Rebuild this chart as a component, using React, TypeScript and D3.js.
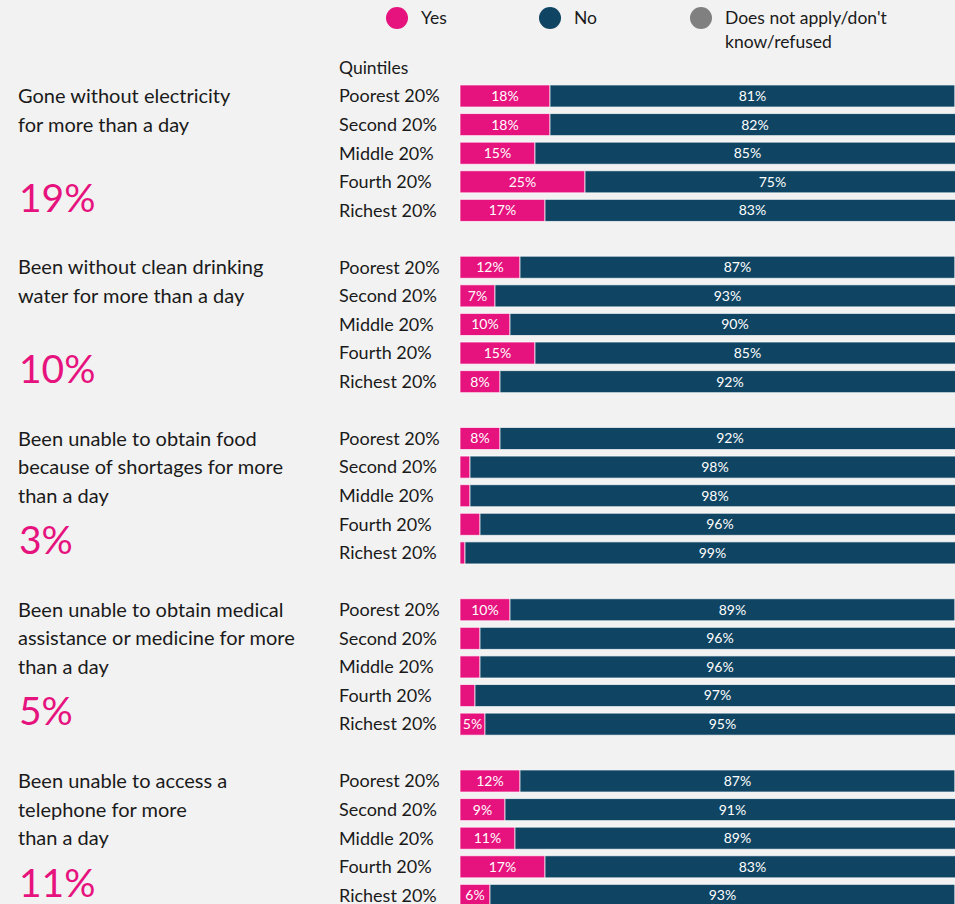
import React from "react";
import * as d3 from "d3";

const quintiles = ["Poorest 20%", "Second 20%", "Middle 20%", "Fourth 20%", "Richest 20%"];
const titles = [
  ["Gone without electricity", "for more than a day"],
  ["Been without clean drinking", "water for more than a day"],
  ["Been unable to obtain food", "because of shortages for more", "than a day"],
  ["Been unable to obtain medical", "assistance or medicine for more", "than a day"],
  ["Been unable to access a", "telephone for more", "than a day"],
];
const totals = ["19%", "10%", "3%", "5%", "11%"];
const yesValues = [
  [18, 18, 15, 25, 17],
  [12, 7, 10, 15, 8],
  [8, 2, 2, 4, 1],
  [10, 4, 4, 3, 5],
  [12, 9, 11, 17, 6],
];
const noValues = [
  [81, 82, 85, 75, 83],
  [87, 93, 90, 85, 92],
  [92, 98, 98, 96, 99],
  [89, 96, 96, 97, 95],
  [87, 91, 89, 83, 93],
];
const legendItems = [
  { key: "yes", label: ["Yes"] },
  { key: "no", label: ["No"] },
  { key: "dk", label: ["Does not apply/don't", "know/refused"] },
];

const COLORS: Record<string, string> = { yes: "#E6127E", no: "#0F4563", dk: "#808080" };
const FONT = "Lato, 'Source Sans Pro', sans-serif";

export default function App() {
  const W = 955, H = 904;
  const x = d3.scaleLinear().domain([0, 100]).range([460, 960]);
  const panelY = d3.scaleLinear().domain([0, 4]).range([96, 781]);
  const step = 28.6;
  const band = d3.scaleBand<string>().domain(quintiles).range([-step / 2, step * 4.5]).paddingInner(0.228).paddingOuter(0.114);

  return (
    <svg width={W} height={H} style={{ position: "absolute", left: 0, top: 0, background: "#F2F2F2", fontFamily: FONT }}>
      <rect width={W} height={H} fill="#F2F2F2" />
      {legendItems.map((d, i) => {
        const cx = [397, 550, 701][i];
        return (
          <g key={d.key}>
            <circle cx={cx} cy={18} r={11} fill={COLORS[d.key]} />
            {d.label.map((t, j) => (
              <text key={j} x={cx + 24} y={18 + j * 24} dy="0.35em" fontSize={17.5} fill="#1a1a1a">{t}</text>
            ))}
          </g>
        );
      })}
      <text x={339} y={68} dy="0.35em" fontSize={17.5} fill="#1a1a1a">Quintiles</text>
      {titles.map((lines, p) => {
        const py = panelY(p);
        return (
          <g key={p} transform={`translate(0,${py})`}>
            {lines.map((t, j) => (
              <text key={j} x={18} y={j * step} dy="0.35em" fontSize={20} fill="#1a1a1a">{t}</text>
            ))}
            <text x={19} y={102} dy="0.35em" fontSize={39} fill={COLORS.yes}>{totals[p]}</text>
            {quintiles.map((q, r) => {
              const yv = yesValues[p][r];
              const nv = noValues[p][r];
              const dk = Math.max(0, 100 - yv - nv);
              const by = band(q)!;
              const bh = band.bandwidth();
              const segs = [
                { k: "yes", s: 0, v: yv },
                { k: "no", s: yv, v: nv },
                { k: "dk", s: yv + nv, v: dk },
              ];
              return (
                <g key={q}>
                  <text x={339} y={r * step} dy="0.35em" fontSize={18} fill="#1a1a1a">{q}</text>
                  {segs.map((sg) => sg.v > 0 && (
                    <g key={sg.k}>
                      <rect x={x(sg.s)} y={by} width={x(sg.s + sg.v) - x(sg.s)} height={bh}
                        fill={COLORS[sg.k]} stroke="#ffffff" strokeOpacity={0.7} strokeWidth={1} />
                      {sg.v >= 5 && (
                        <text x={(x(sg.s) + x(sg.s + sg.v)) / 2} y={by + bh / 2} dy="0.35em" textAnchor="middle"
                          fontSize={14} fill="#ffffff">{sg.v}%</text>
                      )}
                    </g>
                  ))}
                </g>
              );
            })}
          </g>
        );
      })}
    </svg>
  );
}
